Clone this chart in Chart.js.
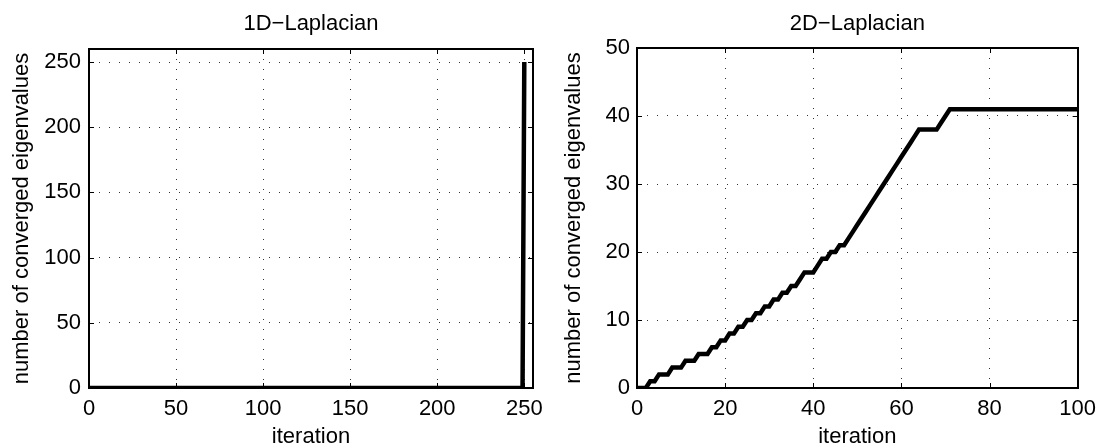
<!DOCTYPE html>
<html><head><meta charset="utf-8">
<script src="https://cdn.jsdelivr.net/npm/chart.js@4.4.1/dist/chart.umd.min.js"></script>
<style>
html,body{margin:0;padding:0;background:#fff;overflow:hidden;width:1104px;height:446px;}
canvas{position:absolute;top:0;}
#c1{left:0}
#c2{left:552px}
</style></head><body>
<canvas id="c1" width="552" height="446"></canvas>
<canvas id="c2" width="552" height="446"></canvas>
<script>
// ---- data ----
const titleLeft = '1D\u2212Laplacian';
const titleRight = '2D\u2212Laplacian';
const xLabel = 'iteration';
const yLabel = 'number of converged eigenvalues';

const iterLeft = [0, 249, 250];
const convLeft = [0, 0, 250];
const xTicksLeft = [0, 50, 100, 150, 200, 250];
const yTicksLeft = [0, 50, 100, 150, 200, 250];

const iterRight = [0,1,2,3,4,5,6,7,8,9,10,11,12,13,14,15,16,17,18,19,20,
  21,22,23,24,25,26,27,28,29,30,31,32,33,34,35,36,37,38,39,40,
  41,42,43,44,45,46,47,48,49,50,51,52,53,54,55,56,57,58,59,60,
  61,62,63,64,65,66,67,68,69,70,71,100];
const convRight = [0,0,0,1,1,2,2,2,3,3,3,4,4,4,5,5,5,6,6,7,7,
  8,8,9,9,10,10,11,11,12,12,13,13,14,14,15,15,16,17,17,17,
  18,19,19,20,20,21,21,22,23,24,25,26,27,28,29,30,31,32,33,34,
  35,36,37,38,38,38,38,38,39,40,41,41];
const xTicksRight = [0, 20, 40, 60, 80, 100];
const yTicksRight = [0, 10, 20, 30, 40, 50];

const FONT = 'Liberation Sans, Arial, Helvetica, sans-serif';
const FS = 22;

// box + inner tick marks (MATLAB style)
const boxPlugin = {
  id: 'matlabBox',
  afterDatasetsDraw(chart) {
    const {ctx, chartArea: a, scales} = chart;
    ctx.save();
    ctx.strokeStyle = '#000';
    ctx.lineWidth = 1;
    const L = 5;
    scales.x.ticks.forEach(t => {
      const px = Math.round(scales.x.getPixelForValue(t.value)) + 0.5;
      ctx.beginPath();
      ctx.moveTo(px, a.bottom); ctx.lineTo(px, a.bottom - L);
      ctx.moveTo(px, a.top); ctx.lineTo(px, a.top + L);
      ctx.stroke();
    });
    scales.y.ticks.forEach(t => {
      const py = Math.round(scales.y.getPixelForValue(t.value)) + 0.5;
      ctx.beginPath();
      ctx.moveTo(a.left, py); ctx.lineTo(a.left + L, py);
      ctx.moveTo(a.right, py); ctx.lineTo(a.right - L, py);
      ctx.stroke();
    });
    ctx.lineWidth = 2;
    ctx.strokeRect(Math.round(a.left), Math.round(a.top), Math.round(a.right - a.left), Math.round(a.bottom - a.top));
    ctx.restore();
  }
};

function makeChart(id, cfg) {
  const pts = cfg.xs.map((x, i) => ({x: x, y: cfg.ys[i]}));
  return new Chart(document.getElementById(id), {
    type: 'line',
    data: {datasets: [{
      data: pts, borderColor: '#000', borderWidth: 4.5, pointRadius: 0,
      tension: 0, fill: false, borderJoinStyle: 'miter', borderCapStyle: 'butt'
    }]},
    options: {
      responsive: false, animation: false, devicePixelRatio: 1,
      layout: {padding: {left: 0, right: cfg.padRight, top: 0, bottom: 0}},
      plugins: {
        legend: {display: false}, tooltip: {enabled: false},
        title: {display: true, text: cfg.title, color: '#000', fullSize: false,
          font: {family: FONT, size: FS, weight: 'normal', lineHeight: 1.2},
          padding: {top: 11, bottom: cfg.titleBottom}}
      },
      scales: {
        x: {type: 'linear', min: cfg.xmin, max: cfg.xmax,
          afterBuildTicks: s => { s.ticks = cfg.xTicks.map(v => ({value: v})); },
          afterFit: s => { s.height = 58; },
          grid: {color: '#333', lineWidth: 1, drawTicks: false},
          border: {display: false, dash: [1, 9]},
          ticks: {padding: 8, color: '#000', maxRotation: 0, font: {family: FONT, size: FS}},
          title: {display: true, text: xLabel, color: '#000', font: {family: FONT, size: FS, lineHeight: 1.2},
            padding: {top: 0, bottom: -4}}
        },
        y: {type: 'linear', min: 0, max: cfg.ymax,
          afterBuildTicks: s => { s.ticks = cfg.yTicks.map(v => ({value: v})); },
          afterFit: s => { s.width = cfg.yWidth; },
          grid: {color: '#333', lineWidth: 1, drawTicks: false},
          border: {display: false, dash: [1, 9]},
          ticks: {padding: cfg.yPad, color: '#000', font: {family: FONT, size: FS}},
          title: {display: true, text: yLabel, color: '#000', font: {family: FONT, size: FS, lineHeight: 1.2},
            padding: {top: 9, bottom: 0}}
        }
      }
    },
    plugins: [boxPlugin]
  });
}

makeChart('c1', {xs: iterLeft, ys: convLeft, title: titleLeft, xmin: 0, xmax: 255, ymax: 260,
  xTicks: xTicksLeft, yTicks: yTicksLeft, yWidth: 89, yPad: 8, padRight: 19, titleBottom: 11.6});
makeChart('c2', {xs: iterRight, ys: convRight, title: titleRight, xmin: 0, xmax: 100, ymax: 50,
  xTicks: xTicksRight, yTicks: yTicksRight, yWidth: 85, yPad: 7, padRight: 21, titleBottom: 10.6});
</script>
</body></html>
